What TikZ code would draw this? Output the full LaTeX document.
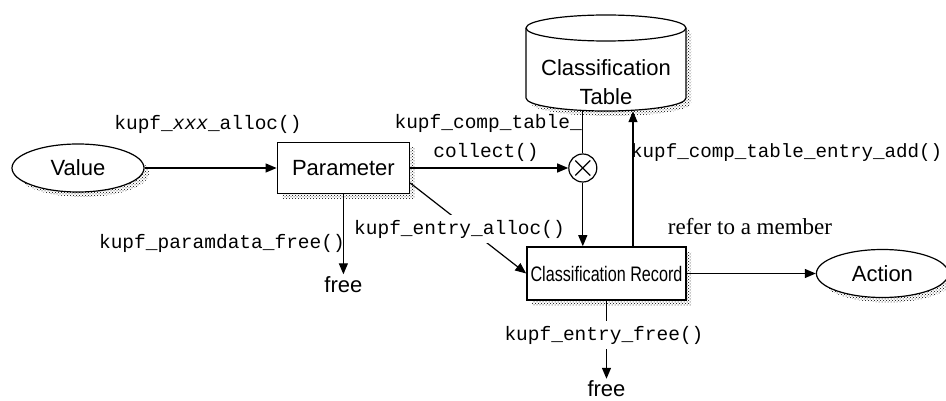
\documentclass[tikz,border=0pt]{standalone}
\usepackage{fontspec}
\newfontfamily\arialfont{Liberation Sans}
\newfontfamily\courfont{Liberation Mono}
\newfontfamily\timesfont{Liberation Serif}
\newfontfamily\narrowfont[FakeStretch=0.77]{Liberation Sans}
\usetikzlibrary{arrows.meta, positioning, calc, shapes.geometric, shadows, patterns}

\begin{document}
\begin{tikzpicture}[
		x=1pt, y=1pt, % one unit = one pixel, y runs downwards as negative
		node distance=80pt and 130pt,
		boxshadow/.style={drop shadow={shadow xshift=5pt, shadow yshift=-5pt, pattern=crosshatch dots, opacity=1}},
		proc/.style={rectangle, draw=black, line width=1.6pt, fill=white, boxshadow, minimum width=132pt, minimum height=51pt, font=\arialfont\fontsize{22}{26}\selectfont},
		term/.style={ellipse, draw=black, line width=1.2pt, fill=white, boxshadow, minimum width=132pt, minimum height=48pt, inner sep=0pt, font=\arialfont\fontsize{22}{26}\selectfont},
		func/.style={font=\courfont\fontsize{19.5}{22}\selectfont, inner sep=1pt},
		endtext/.style={font=\arialfont\fontsize{22}{26}\selectfont, inner sep=2pt},
		arrow/.style={-{Triangle[length=11pt,width=9pt]}, line width=1.2pt}
		]
		\useasboundingbox (0,0) rectangle (946,-401);
		
		% Main flow
		\node[term] (value) at (78,-168) {Value};
		\node[proc, right=132pt of value] (param) {Parameter};
		\node[circle, draw=black, line width=1.2pt, minimum size=28pt, inner sep=0pt, right=158pt of param] (coll) {};
		\draw[line width=1.2pt, shorten >=4pt, shorten <=4pt] (coll.north east) -- (coll.south west);
		\draw[line width=1.2pt, shorten >=4pt, shorten <=4pt] (coll.north west) -- (coll.south east);
		
		% Classification table (cylinder)
		\coordinate (tbl) at (606,-63);
		\fill[pattern=crosshatch dots] ([shift={(5pt,-5pt)}]tbl) ++(-80pt,35pt) -- ++(0,-70pt) arc[start angle=180, end angle=360, x radius=80pt, y radius=13pt] -- ++(0,70pt) arc[start angle=0, end angle=180, x radius=80pt, y radius=13pt] -- cycle;
		\filldraw[fill=white, line width=1.2pt] (tbl) ++(-80pt,35pt) -- ++(0,-70pt) arc[start angle=180, end angle=360, x radius=80pt, y radius=13pt] -- ++(0,70pt) arc[start angle=0, end angle=180, x radius=80pt, y radius=13pt] -- cycle;
		\draw[line width=1.2pt] (tbl) ++(-80pt,35pt) arc[start angle=180, end angle=360, x radius=80pt, y radius=13pt];
		\node[minimum width=160pt, minimum height=96pt, inner sep=0pt, label={[align=center, font=\arialfont\fontsize{22}{29}\selectfont, yshift=-19.5pt]center:{Classification\\Table}}] (ctable) at (tbl) {};
		
		\node[proc, minimum width=159pt, minimum height=53pt, font=\narrowfont\fontsize{21}{24}\selectfont] (record) at (606.5,-273.5) {Classification Record};
		\node[term, right=129pt of record] (action) {Action};
		\node[endtext, below=80pt of param] (free1) {free};
		\node[endtext, below=78pt of record] (free2) {free};
		
		% Arrows
		\draw[arrow] (value) -- (param);
		\draw[arrow] (param) -- (coll);
		\draw[line width=1.2pt] (coll.north) -- (coll.north |- ctable.south);
		\draw[arrow] (coll.south) -- (coll.south |- record.north);
		\draw[arrow] ([xshift=26.5pt]record.north) -- ([xshift=26.5pt]record.north |- ctable.south);
		\draw[arrow] ([yshift=-15pt]param.east) -- (record.west);
		\draw[arrow] (record) -- (action);
		\draw[arrow] (param.south) -- (free1.north);
		\draw[arrow] (record.south) -- (free2.north);
		
		% Function labels
		\node[func] (xalloc) at (208,-124) {kupf\_\textit{xxx}\_alloc()};
		\node[func, anchor=east] (pfree) at (346,-243) {kupf\_paramdata\_free()};
		\node[func, anchor=east] (tcollect) at (583,-123) {kupf\_comp\_table\_};
		\node[func] (tcollect2) at (486,-152) {collect()};
		\node[func, anchor=west, inner sep=0pt, font=\courfont\fontsize{19.2}{22}\selectfont] (eadd) at (631,-153) {kupf\_comp\_table\_entry\_add()};
		\node[func, fill=white, inner sep=5pt] (ealloc) at (459.5,-229) {kupf\_entry\_alloc()};
		\node[func, fill=white, inner sep=5pt] (efree) at (604,-335) {kupf\_entry\_free()};
		\node[font=\timesfont\fontsize{23}{26}\selectfont] (refer) at (750,-227) {refer to a member};
		
	\end{tikzpicture}
\end{document}
